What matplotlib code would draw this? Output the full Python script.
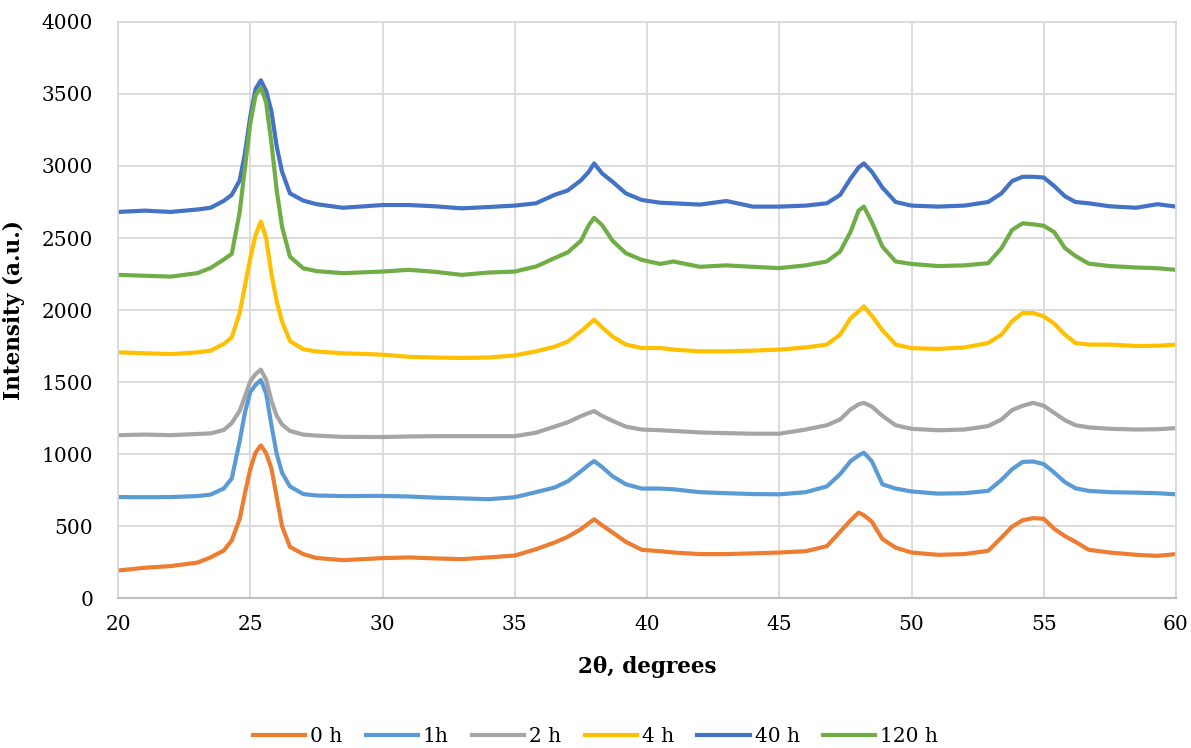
import matplotlib.pyplot as plt

# 2-theta positions (degrees) and intensities (a.u.) for each milling time
two_theta = [20, 21, 22, 23, 23.5, 24, 24.3, 24.6, 24.8, 25.0, 25.2, 25.4, 25.6, 25.8,
             26.0, 26.2, 26.5, 27.0, 27.5, 28.5, 30, 31, 32, 33, 34, 35, 35.8, 36.5,
             37, 37.5, 37.8, 38.0, 38.3, 38.7, 39.2, 39.8, 40.5, 41, 42, 43, 44, 45,
             46, 46.8, 47.3, 47.7, 48.0, 48.2, 48.5, 48.9, 49.4, 50, 51, 52, 52.9,
             53.4, 53.8, 54.2, 54.6, 55.0, 55.4, 55.8, 56.2, 56.7, 57.5, 58.5, 59.3, 60]

i_0h = [191, 210, 222, 246, 282, 330, 400, 550, 730, 895, 1010, 1060, 1005, 900,
        700, 500, 355, 305, 278, 263, 277, 282, 275, 270, 282, 295, 339, 385,
        425, 478, 520, 547, 505, 455, 390, 335, 325, 316, 305, 305, 310, 316,
        325, 360, 460, 540, 593, 575, 530, 410, 350, 316, 300, 305, 328,
        420, 495, 540, 555, 550, 480, 430, 390, 335, 316, 300, 293, 305]

i_1h = [701, 700, 701, 708, 718, 761, 830, 1090, 1290, 1430, 1480, 1514, 1420, 1200,
        1000, 870, 775, 722, 712, 708, 709, 705, 697, 692, 686, 700, 735, 767,
        810, 880, 925, 951, 910, 845, 790, 760, 760, 755, 735, 728, 722, 720,
        735, 775, 860, 951, 990, 1009, 950, 790, 760, 740, 725, 728, 744,
        820, 894, 945, 948, 930, 870, 805, 762, 744, 735, 732, 728, 720]

i_2h = [1131, 1135, 1131, 1139, 1143, 1167, 1215, 1300, 1400, 1505, 1555, 1586, 1515, 1370,
        1265, 1205, 1160, 1135, 1128, 1119, 1118, 1122, 1124, 1124, 1124, 1124, 1148, 1190,
        1220, 1263, 1285, 1298, 1265, 1230, 1190, 1170, 1165, 1160, 1150, 1145, 1141, 1141,
        1170, 1200, 1240, 1310, 1345, 1355, 1330, 1265, 1200, 1175, 1165, 1170, 1194,
        1240, 1305, 1335, 1355, 1335, 1285, 1235, 1200, 1185, 1175, 1170, 1172, 1180]

i_4h = [1706, 1700, 1694, 1706, 1718, 1765, 1810, 1980, 2170, 2360, 2520, 2614, 2500, 2250,
        2060, 1920, 1785, 1728, 1712, 1700, 1690, 1675, 1670, 1667, 1670, 1685, 1713, 1745,
        1780, 1852, 1900, 1933, 1880, 1815, 1760, 1736, 1736, 1725, 1713, 1713, 1718, 1725,
        1740, 1760, 1829, 1944, 1990, 2025, 1960, 1860, 1760, 1735, 1730, 1740, 1771,
        1829, 1921, 1979, 1979, 1956, 1905, 1830, 1770, 1760, 1760, 1750, 1752, 1760]

i_40h = [2681, 2690, 2681, 2698, 2710, 2758, 2800, 2900, 3090, 3344, 3535, 3595, 3520, 3380,
         3135, 2961, 2810, 2760, 2735, 2710, 2729, 2729, 2720, 2706, 2715, 2725, 2741, 2799,
         2830, 2900, 2960, 3018, 2949, 2890, 2810, 2764, 2745, 2741, 2732, 2757, 2718, 2718,
         2725, 2741, 2799, 2914, 2990, 3018, 2960, 2850, 2750, 2725, 2718, 2725, 2750,
         2810, 2895, 2925, 2925, 2920, 2860, 2790, 2750, 2741, 2720, 2710, 2735, 2718]

i_120h = [2244, 2238, 2232, 2256, 2292, 2351, 2390, 2680, 2990, 3296, 3490, 3547, 3440, 3160,
          2830, 2579, 2370, 2290, 2270, 2256, 2267, 2279, 2265, 2244, 2260, 2267, 2302, 2360,
          2400, 2480, 2590, 2640, 2590, 2480, 2395, 2348, 2320, 2337, 2300, 2310, 2300, 2291,
          2310, 2337, 2406, 2544, 2690, 2718, 2610, 2440, 2337, 2320, 2305, 2310, 2325,
          2429, 2556, 2602, 2595, 2585, 2540, 2430, 2375, 2322, 2305, 2295, 2290, 2279]

labels = ["0 h", "1h", "2 h", "4 h", "40 h", "120 h"]
colors = ["#ED7D31", "#5B9BD5", "#A5A5A5", "#FFC000", "#4472C4", "#70AD47"]
series = [i_0h, i_1h, i_2h, i_4h, i_40h, i_120h]

plt.rcParams['font.family'] = ['DejaVu Serif']

fig = plt.figure(figsize=(11.91, 7.48), dpi=100)
ax = fig.add_axes([0.0991, 0.2005, 0.8883, 0.7701])

for y, lab, col in zip(series, labels, colors):
    ax.plot(two_theta, y, color=col, linewidth=3, label=lab, solid_joinstyle='round')

ax.set_xlim(20, 60)
ax.set_ylim(0, 4000)
ax.set_xticks(range(20, 61, 5))
ax.set_yticks(range(0, 4001, 500))
ax.grid(True, color="#d9d9d9", linewidth=1.3)
ax.set_axisbelow(True)
ax.tick_params(length=0, labelsize=14.5, pad=12)
ax.tick_params(axis='y', pad=18)
for side in ["top", "right", "left"]:
    ax.spines[side].set_color("#d9d9d9")
    ax.spines[side].set_linewidth(1.3)
ax.spines["bottom"].set_color("#bfbfbf")
ax.spines["bottom"].set_linewidth(1.5)

ax.set_xlabel("2θ, degrees", fontsize=15.5, fontweight='bold', labelpad=16)
ax.set_ylabel("Intensity (a.u.)", fontsize=15.5, fontweight='bold', labelpad=12)

fig.legend(loc='lower center', bbox_to_anchor=(0.5, -0.022), ncol=6, frameon=False,
           fontsize=14.5, handlelength=2.6, columnspacing=1.15, handletextpad=0.25)

fig.savefig("out.png", dpi=100)
